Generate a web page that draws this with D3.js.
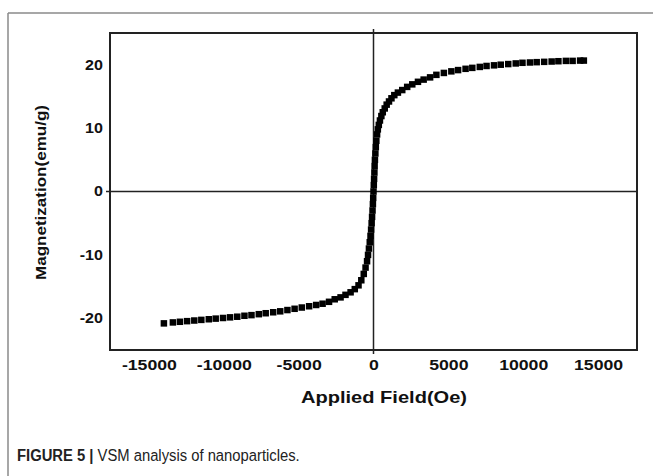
<!DOCTYPE html>
<html><head><meta charset="utf-8">
<script src="https://cdn.jsdelivr.net/npm/d3@7"></script>
<style>body{margin:0;background:#fff}svg{display:block}</style>
</head><body>
<svg id="c" width="653" height="476"></svg>
<script>
// Applied field (Oe) and magnetization (emu/g)
const fieldPos = [0,20,40,60,75,95,125,155,190,240,290,355,430,525,620,750,880,1035,1200,1390,1630,1920,2250,2590,2970,3350,3780,4200,4700,5200,5650,6150,6600,7100,7550,8050,8500,9000,9500,9950,10450,10900,11400,11900,12350,12850,13300,13800,14050];
const magPos   = [0,1.0,2.0,3.0,4.0,5.0,6.0,7.0,8.0,9.0,9.8,10.5,11.2,11.9,12.5,13.1,13.7,14.2,14.7,15.2,15.6,16.0,16.5,16.9,17.3,17.65,18.0,18.4,18.7,18.95,19.15,19.35,19.5,19.65,19.8,19.9,20.0,20.1,20.2,20.3,20.35,20.4,20.45,20.5,20.55,20.6,20.6,20.65,20.65];
const fieldNeg = [-20,-40,-65,-95,-125,-160,-200,-250,-305,-365,-430,-530,-650,-815,-1000,-1250,-1530,-1870,-2200,-2590,-2970,-3400,-3830,-4300,-4790,-5270,-5750,-6230,-6700,-7200,-7660,-8150,-8620,-9100,-9580,-10050,-10540,-11000,-11500,-11970,-12450,-12930,-13400,-14000];
const magNeg   = [-1.0,-2.0,-3.0,-4.0,-5.0,-6.0,-7.0,-8.0,-9.0,-10.0,-11.0,-12.0,-13.0,-14.0,-14.8,-15.4,-15.9,-16.3,-16.7,-17.0,-17.4,-17.7,-17.9,-18.1,-18.3,-18.5,-18.7,-18.9,-19.05,-19.2,-19.35,-19.5,-19.6,-19.75,-19.85,-19.95,-20.05,-20.15,-20.25,-20.35,-20.45,-20.55,-20.65,-20.8];
const xTicks = [-15000,-10000,-5000,0,5000,10000,15000];
const yTicks = [-20,-10,0,10,20];
const xTitle = "Applied Field(Oe)";
const yTitle = "Magnetization(emu/g)";
const captionBold = "FIGURE 5 |";
const captionText = " VSM analysis of nanoparticles.";

const points = fieldPos.map((f,i)=>({f, m: magPos[i]}))
  .concat(fieldNeg.map((f,i)=>({f, m: magNeg[i]})));

const svg = d3.select("#c");
const L = 110, R = 637, T = 33, B = 350;
const x = d3.scaleLinear().domain([-17600, 17600]).range([L, R]);
const y = d3.scaleLinear().domain([-25, 25]).range([B, T]);

// outer frame lines
svg.append("line").attr("x1",8).attr("y1",13).attr("x2",653).attr("y2",13).attr("stroke","#8a8a8a").attr("stroke-width",1.5);
svg.append("line").attr("x1",8).attr("y1",13).attr("x2",8).attr("y2",476).attr("stroke","#8a8a8a").attr("stroke-width",1.5);

// zero lines
svg.append("line").attr("x1",L-4).attr("x2",R).attr("y1",y(0)).attr("y2",y(0)).attr("stroke","#222").attr("stroke-width",1.5);
svg.append("line").attr("x1",x(0)).attr("x2",x(0)).attr("y1",T-4).attr("y2",B+4).attr("stroke","#222").attr("stroke-width",1.5);

// plot box
svg.append("rect").attr("x",L).attr("y",T).attr("width",R-L).attr("height",B-T)
  .attr("fill","none").attr("stroke","#222").attr("stroke-width",2);

// markers
const s = 6.5;
svg.append("g").selectAll("rect").data(points).join("rect")
  .attr("x",d=>x(d.f)-s/2).attr("y",d=>y(d.m)-s/2).attr("width",s).attr("height",s).attr("fill","#000");

// axes
const fmt = d => String(d);
const xa = svg.append("g").attr("transform",`translate(0,${B})`)
  .call(d3.axisBottom(x).tickValues(xTicks).tickSize(0).tickPadding(10).tickFormat(fmt));
xa.select(".domain").remove();
xa.selectAll("text").attr("font-family","'Liberation Sans',Arial,sans-serif").attr("font-weight","bold")
  .attr("font-size",14.5).attr("fill","#111").attr("transform","scale(1.22,1)");

const ya = svg.append("g").attr("transform",`translate(${L},0)`)
  .call(d3.axisLeft(y).tickValues(yTicks).tickSize(0).tickPadding(8).tickFormat(fmt));
ya.select(".domain").remove();
ya.selectAll("text").attr("font-family","'Liberation Sans',Arial,sans-serif").attr("font-weight","bold")
  .attr("font-size",14).attr("fill","#111").attr("x",-7/1.15).attr("transform","scale(1.15,1)");

// titles
svg.append("text").attr("x",384).attr("y",403).attr("text-anchor","middle")
  .attr("font-family","'Liberation Sans',Arial,sans-serif").attr("font-weight","bold").attr("font-size",17)
  .attr("fill","#111").attr("textLength",166).attr("lengthAdjust","spacingAndGlyphs").text(xTitle);
svg.append("text").attr("transform",`translate(46,192.5) rotate(-90)`).attr("text-anchor","middle")
  .attr("font-family","'Liberation Sans',Arial,sans-serif").attr("font-weight","bold").attr("font-size",15)
  .attr("fill","#111").attr("textLength",175).attr("lengthAdjust","spacingAndGlyphs").text(yTitle);

// caption
const cap = svg.append("text").attr("x",17).attr("y",461)
  .attr("font-family","'Liberation Sans',Arial,sans-serif").attr("font-size",17).attr("fill","#222");
cap.append("tspan").attr("font-weight","bold").text(captionBold);
cap.append("tspan").text(captionText);
const w = cap.node().getComputedTextLength();
const target = 283;
cap.attr("transform",`translate(17,0) scale(${target/w},1) translate(-17,0)`);
</script>
</body></html>
